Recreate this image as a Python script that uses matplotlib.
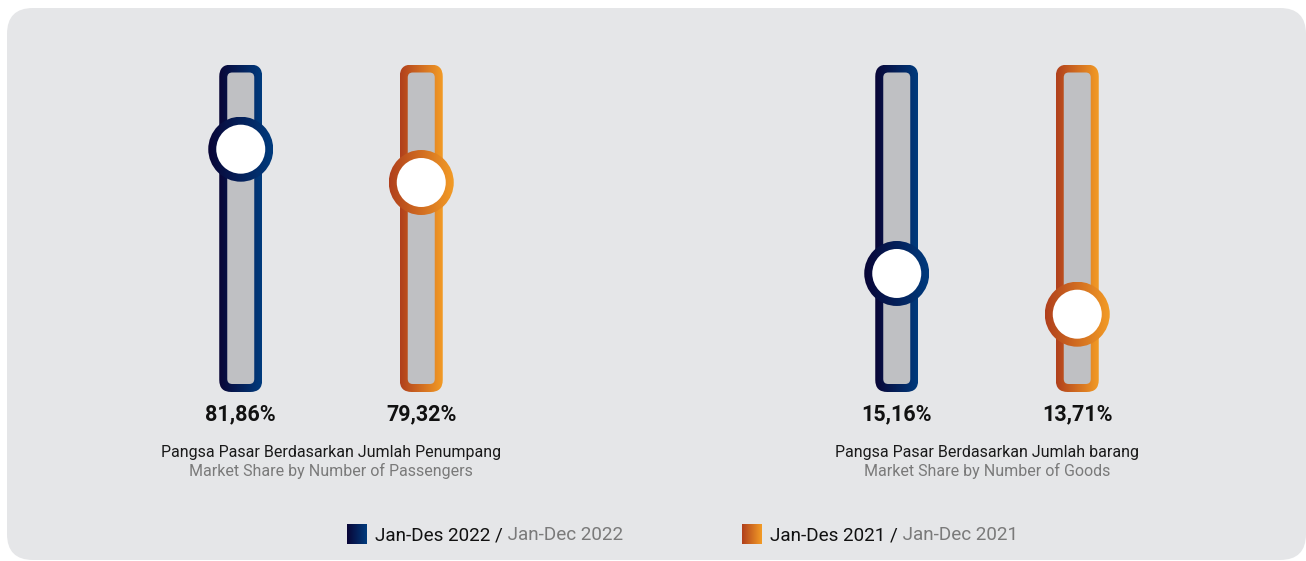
import numpy as np
import matplotlib.pyplot as plt
from matplotlib.colors import LinearSegmentedColormap
from matplotlib.patches import FancyBboxPatch, Circle
from matplotlib.transforms import ScaledTranslation

plt.rcParams['font.family'] = ['Roboto', 'DejaVu Sans']

# market share (%) per period
periods = ['Jan-Des 2022', 'Jan-Des 2021']
periods_en = ['Jan-Dec 2022', 'Jan-Dec 2021']
passenger_share = [81.86, 79.32]
goods_share = [15.16, 13.71]
group_titles = ['Pangsa Pasar Berdasarkan Jumlah Penumpang',
                'Pangsa Pasar Berdasarkan Jumlah barang']
group_titles_en = ['Market Share by Number of Passengers',
                   'Market Share by Number of Goods']

# value range covered by each slider track
track_ranges = [(63.34, 88.32), (10.94, 22.60)]

W, H = 1306, 561
PANEL = '#e5e6e8'
TRACK = '#bfc0c3'
cmaps = [
    LinearSegmentedColormap.from_list('navy', ['#090536', '#003b7d']),
    LinearSegmentedColormap.from_list('amber', ['#b03f1c', '#f39c26']),
]
grad = np.linspace(0, 1, 256).reshape(1, -1)

fig = plt.figure(figsize=(W / 100, H / 100), dpi=100, facecolor='white')

# background card
bg = fig.add_axes([0, 0, 1, 1])
bg.set_xlim(0, W)
bg.set_ylim(H, 0)
bg.axis('off')
bg.add_patch(FancyBboxPatch((7, 8), 1299, 552, boxstyle='round,pad=0,rounding_size=26',
                            fc=PANEL, ec='none', zorder=0))

track_top, track_bottom = 64.5, 392
track_h = track_bottom - track_top


def draw_slider(ax, i, value, cmap):
    # track: gradient frame with a grey inset, sized in pixels around x = i
    base = ScaledTranslation(i, 0, ax.get_xaxis_transform())
    frame = FancyBboxPatch((-21.5, 0), 43, track_h, boxstyle='round,pad=0,rounding_size=12',
                           transform=base, fc='none', ec='none')
    ax.add_patch(frame)
    im = ax.imshow(grad, cmap=cmap, extent=(-21.5, 21.5, 0, track_h), transform=base,
                   aspect='auto', interpolation='bilinear', zorder=1)
    im.set_clip_path(frame)
    ax.add_patch(FancyBboxPatch((-13.5, 8), 27, track_h - 16, boxstyle='round,pad=0,rounding_size=5',
                                transform=base, fc=TRACK, ec='none', zorder=2))

    # knob placed at the value
    knob = ScaledTranslation(i, value, ax.transData)
    ring = Circle((0, 0), 32.5, transform=knob, fc='none', ec='none')
    ax.add_patch(ring)
    im2 = ax.imshow(grad, cmap=cmap, extent=(-32.5, 32.5, -32.5, 32.5), transform=knob,
                    aspect='auto', interpolation='bilinear', zorder=3)
    im2.set_clip_path(ring)
    ax.add_patch(Circle((0, 0), 24.5, transform=knob, fc='white', ec='none', zorder=4))

    label = f'{value:.2f}'.replace('.', ',') + '%'
    ax.annotate(label, xy=(i, 0), xycoords=('data', 'axes fraction'),
                xytext=(0, -22), textcoords='offset pixels', ha='center', va='center',
                fontsize=15.5, fontweight='bold', color='#111111', annotation_clip=False)


groups = [passenger_share, goods_share]
lefts = [150.5, 806.5]
for g, shares in enumerate(groups):
    ax = fig.add_axes([lefts[g] / W, (H - track_bottom) / H, 361 / W, track_h / H])
    for i, v in enumerate(shares):
        draw_slider(ax, i, v, cmaps[i])
    ax.set_xlim(-0.5, 1.5)
    ax.set_ylim(*track_ranges[g])
    ax.axis('off')

    ax.annotate(group_titles[g], xy=(0.5, 0), xycoords='axes fraction', xytext=(0, -61),
                textcoords='offset pixels', ha='center', va='center', fontsize=11.5,
                color='#1a1a1a', annotation_clip=False)
    ax.annotate(group_titles_en[g], xy=(0.5, 0), xycoords='axes fraction', xytext=(0, -79),
                textcoords='offset pixels', ha='center', va='center', fontsize=11.5,
                color='#7a7a7a', annotation_clip=False)

# legend
leg_x = [347, 742]
for k in range(2):
    x0 = leg_x[k]
    bg.imshow(grad, cmap=cmaps[k], extent=(x0, x0 + 20, 544, 524), aspect='auto',
              interpolation='bilinear', zorder=3)
    t1 = bg.text(x0 + 28, 535.5, periods[k] + ' /', va='center', ha='left',
                 fontsize=13.6, color='#111111', zorder=3)
    bg.annotate(' ' + periods_en[k], xy=(1, 0), xycoords=t1, va='bottom', ha='left',
                fontsize=13.6, color='#7a7a7a', zorder=3)
bg.set_xlim(0, W)
bg.set_ylim(H, 0)

fig.savefig('out.png', dpi=100, facecolor='white')
